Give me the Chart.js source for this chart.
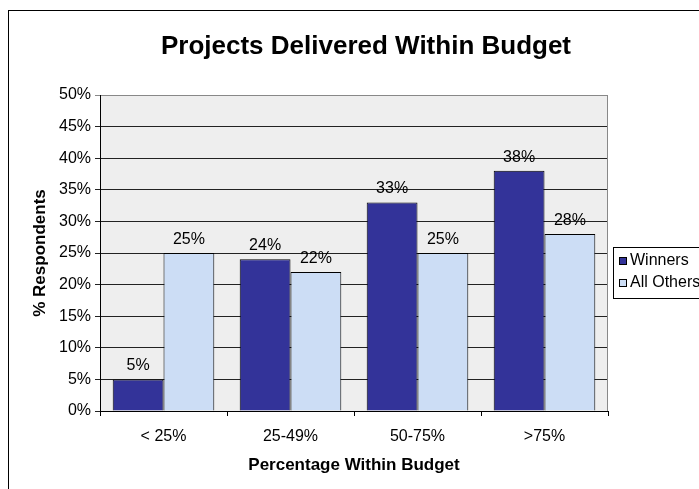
<!DOCTYPE html>
<html>
<head>
<meta charset="utf-8">
<script src="https://cdn.jsdelivr.net/npm/chart.js@4/dist/chart.umd.min.js"></script>
<style>
  html, body { margin: 0; padding: 0; background: #fff; }
  #wrap { width: 699px; height: 489px; position: relative; }
</style>
</head>
<body>
<div id="wrap"><canvas id="grafico"></canvas></div>
<script>
var categorias = ['< 25%', '25-49%', '50-75%', '>75%'];
var ganadores = [5, 24, 33, 38];
var otros = [25, 22, 25, 28];
var nombresSeries = ['Winners', 'All Others'];
var titulo = 'Projects Delivered Within Budget';

var FUENTE = '"Liberation Sans", Arial, sans-serif';
Chart.defaults.font.family = FUENTE;
Chart.defaults.color = '#000';

// Marco, fondo del área de trazado, título, etiquetas y leyenda
var decorado = {
    id: 'decorado',
    beforeDraw: function (chart) {
        var ctx = chart.ctx, a = chart.chartArea;
        ctx.save();
        ctx.fillStyle = '#fff';
        ctx.fillRect(0, 0, chart.width, chart.height);
        ctx.strokeStyle = '#000';
        ctx.lineWidth = 1;
        ctx.strokeRect(8.5, 10.5, 760, 520);
        ctx.fillStyle = '#eeeeee';
        ctx.fillRect(a.left, a.top, a.right - a.left, a.bottom - a.top);
        ctx.restore();
    },
    beforeDatasetsDraw: function (chart) {
        var ctx = chart.ctx, a = chart.chartArea;
        ctx.save();
        ctx.strokeStyle = '#888';
        ctx.lineWidth = 1;
        ctx.beginPath();
        ctx.moveTo(a.right - 0.5, a.top);
        ctx.lineTo(a.right - 0.5, a.bottom);
        ctx.stroke();
        ctx.restore();
    },
    afterDraw: function (chart) {
        var ctx = chart.ctx;
        ctx.save();
        // Título
        ctx.fillStyle = '#000';
        ctx.font = 'bold 26px ' + FUENTE;
        ctx.textAlign = 'center';
        ctx.textBaseline = 'middle';
        ctx.fillText(titulo, 366, 47);

        // Valores sobre las barras
        ctx.font = '16px ' + FUENTE;
        ctx.textBaseline = 'alphabetic';
        chart.data.datasets.forEach(function (ds, i) {
            chart.getDatasetMeta(i).data.forEach(function (barra, j) {
                ctx.fillText(ds.data[j] + '%', barra.x, barra.y - 9);
            });
        });

        // Leyenda
        var lx = 613, ly = 247;
        ctx.fillStyle = '#fff';
        ctx.fillRect(lx + 0.5, ly + 0.5, 200, 51);
        ctx.strokeStyle = '#000';
        ctx.lineWidth = 1;
        ctx.strokeRect(lx + 0.5, ly + 0.5, 200, 51);
        ctx.textAlign = 'left';
        ctx.textBaseline = 'middle';
        chart.data.datasets.forEach(function (ds, i) {
            var y = ly + 14 + i * 22;
            ctx.fillStyle = ds.backgroundColor;
            ctx.fillRect(lx + 6.5, y - 3.5, 7, 7);
            ctx.strokeRect(lx + 6.5, y - 3.5, 7, 7);
            ctx.fillStyle = '#000';
            ctx.fillText(ds.label, lx + 17, y);
        });
        ctx.restore();
    }
};

var ctxBarras = document.getElementById('grafico').getContext('2d');
var grafico = new Chart(ctxBarras, {
    type: 'bar',
    data: {
        labels: categorias,
        datasets: [{
            label: nombresSeries[0],
            data: ganadores,
            backgroundColor: '#333399',
            borderColor: '#000',
            borderWidth: 1
        }, {
            label: nombresSeries[1],
            data: otros,
            backgroundColor: '#ccddf5',
            borderColor: '#000',
            borderWidth: 1
        }]
    },
    options: {
        responsive: true,
        maintainAspectRatio: false,
        animation: false,
        layout: { padding: { left: 0, right: 91, top: 95, bottom: 0 } },
        categoryPercentage: 0.8,
        barPercentage: 1.0,
        plugins: {
            legend: { display: false },
            title: { display: false },
            tooltip: { enabled: false }
        },
        scales: {
            x: {
                grid: { offset: true, drawOnChartArea: false, drawTicks: true, tickLength: 5, color: '#000' },
                border: { display: true, color: '#000' },
                ticks: { font: { size: 16 }, padding: 11, color: '#000' },
                title: { display: true, text: 'Percentage Within Budget', font: { size: 17, weight: 'bold' }, padding: { bottom: 13 }, color: '#000' },
                afterFit: function (escala) { escala.height = 78; }
            },
            y: {
                min: 0,
                max: 50,
                grid: {
                    color: function (c) { return c.tick && c.tick.value === 50 ? '#888' : '#222'; },
                    tickLength: 5
                },
                border: { display: true, color: '#000' },
                ticks: {
                    stepSize: 5,
                    font: { size: 16 },
                    padding: 4,
                    color: '#000',
                    callback: function (v) { return v + '%'; }
                },
                title: { display: true, text: '% Respondents', font: { size: 17, weight: 'bold' }, padding: { top: 30 }, color: '#000' },
                afterFit: function (escala) { escala.width = 100; }
            }
        }
    },
    plugins: [decorado]
});
</script>
</body>
</html>
